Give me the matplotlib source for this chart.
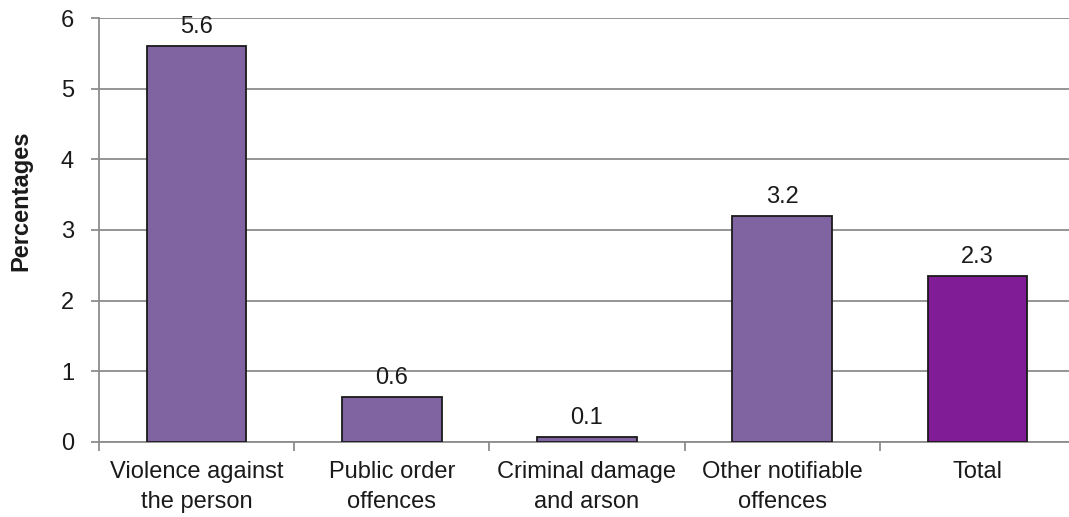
import matplotlib as mpl
import matplotlib.pyplot as plt
import numpy as np

mpl.rcParams["font.family"] = ["Liberation Sans", "DejaVu Sans"]

# -------------------------------------
# Data
# -------------------------------------

categories = [
    "Violence against\nthe person",
    "Public order\noffences",
    "Criminal damage\nand arson",
    "Other notifiable\noffences",
    "Total",
]
values = [5.6, 0.63, 0.07, 3.2, 2.35]
labels = ["5.6", "0.6", "0.1", "3.2", "2.3"]

bar_colors = ["#8064a2", "#8064a2", "#8064a2", "#8064a2", "#801c95"]
grid_color = "#8c8c8c"
text_color = "#1a1a1a"
fs = 17

# -------------------------------------
# Plotting
# -------------------------------------

fig = plt.figure(figsize=(10.69, 5.17), dpi=100)
ax = fig.add_axes([99 / 1069, 75 / 517, 1 - 99 / 1069, (442 - 18) / 517])

x = np.arange(len(categories))
bars = ax.bar(x, values, width=0.51, color=bar_colors, edgecolor=text_color,
              linewidth=1.3, zorder=3)
ax.bar_label(bars, labels=labels, padding=6, fontsize=fs, color=text_color)

ax.set_ylim(0, 6)
ax.set_xlim(-0.5, 4.47)
ax.set_yticks(range(7))
ax.yaxis.grid(True, color=grid_color, linewidth=1.3)
ax.set_axisbelow(True)

# category labels sit between boundary ticks
ax.set_xticks(x)
ax.set_xticklabels(categories, fontsize=fs, color=text_color, linespacing=1.45)
ax.tick_params(axis="x", length=0, pad=14)
ax.set_xticks(np.arange(len(categories)) - 0.5, minor=True)
ax.tick_params(axis="x", which="minor", length=6.5, color=grid_color, width=1.3)
ax.tick_params(axis="y", labelsize=fs, labelcolor=text_color, length=6,
               color=grid_color, width=1.3, pad=12)

for side in ["top", "right"]:
    ax.spines[side].set_visible(False)
for side in ["left", "bottom"]:
    ax.spines[side].set_color(grid_color)
    ax.spines[side].set_linewidth(1.3)

ax.set_ylabel("Percentages", fontsize=fs, fontweight="bold", color=text_color)
ax.yaxis.set_label_coords(-0.069, 0.568)

fig.savefig("out.png", dpi=100)
